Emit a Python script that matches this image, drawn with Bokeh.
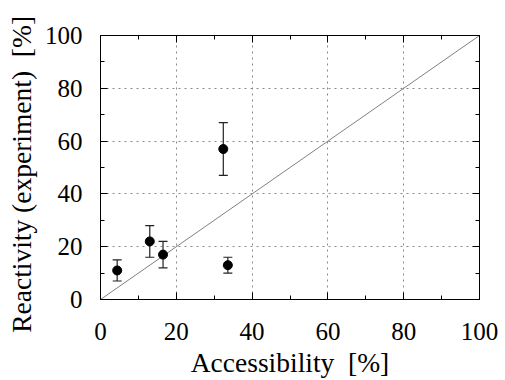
from bokeh.plotting import figure
from bokeh.models import Whisker, ColumnDataSource, LinearAxis, TeeHead, FixedTicker, Grid
from bokeh.embed import file_html
from bokeh.resources import INLINE

# data
accessibility = [4.4, 13.0, 16.5, 33.6, 32.4]
reactivity = [11, 22, 17, 13, 57]
error = [4, 6, 5, 3, 10]
diag_x = [0, 100]
diag_y = [0, 100]
ticks = [0, 20, 40, 60, 80, 100]
minor = [0, 10, 20, 30, 40, 50, 60, 70, 80, 90, 100]
x_title = "Accessibility\u00a0\u00a0[%]"
y_title = "Reactivity (experiment)\u00a0\u00a0[%]\u00a0\u00a0"

FONT = "Liberation Serif"

src = ColumnDataSource(dict(
    x=accessibility, y=reactivity,
    lo=[r - e for r, e in zip(reactivity, error)],
    hi=[r + e for r, e in zip(reactivity, error)],
))

p = figure(width=505, height=380, x_range=(0, 100), y_range=(0, 100),
           output_backend="svg", toolbar_location=None,
           min_border_left=100, min_border_right=26, min_border_top=35, min_border_bottom=81,
           x_axis_location=None, y_axis_location=None)
p.background_fill_color = "white"
p.border_fill_color = "white"
p.outline_line_color = "black"
p.outline_line_width = 1
p.xgrid.visible = False
p.ygrid.visible = False

for loc in ["below", "left", "above", "right"]:
    ax = LinearAxis(ticker=FixedTicker(ticks=ticks, minor_ticks=minor))
    ax.axis_line_color = "black"
    ax.major_tick_in = 7
    ax.major_tick_out = 0
    ax.minor_tick_in = 4
    ax.minor_tick_out = 0
    ax.major_label_text_font = FONT
    ax.major_label_text_color = "black"
    if loc in ("below", "left"):
        ax.major_label_text_font_size = "25px"
        ax.axis_label_text_font = FONT
        ax.axis_label_text_font_size = "27.5px"
        ax.axis_label_text_font_style = "normal"
        ax.axis_label_text_color = "black"
        if loc == "below":
            ax.major_label_standoff = 23
            ax.axis_label = x_title
            ax.axis_label_standoff = 4
        else:
            ax.major_label_standoff = 18
            ax.axis_label = y_title
            ax.axis_label_standoff = 5
    else:
        ax.major_label_text_font_size = "0px"
        ax.major_label_standoff = 0
    p.add_layout(ax, loc)

for dim in (0, 1):
    g = Grid(dimension=dim, ticker=FixedTicker(ticks=ticks))
    g.grid_line_color = "#888888"
    g.grid_line_dash = "2 4"
    g.grid_line_width = 1
    p.add_layout(g)

p.line(diag_x, diag_y, line_color="#808080", line_width=1)

w = Whisker(source=src, base="x", lower="lo", upper="hi", line_color="#222222", line_width=1.2,
            upper_head=TeeHead(size=9, line_color="#222222", line_width=1.2),
            lower_head=TeeHead(size=9, line_color="#222222", line_width=1.2))
p.add_layout(w)
p.scatter("x", "y", source=src, size=9, color="black")

open("out.html", "w").write(file_html(p, INLINE))
